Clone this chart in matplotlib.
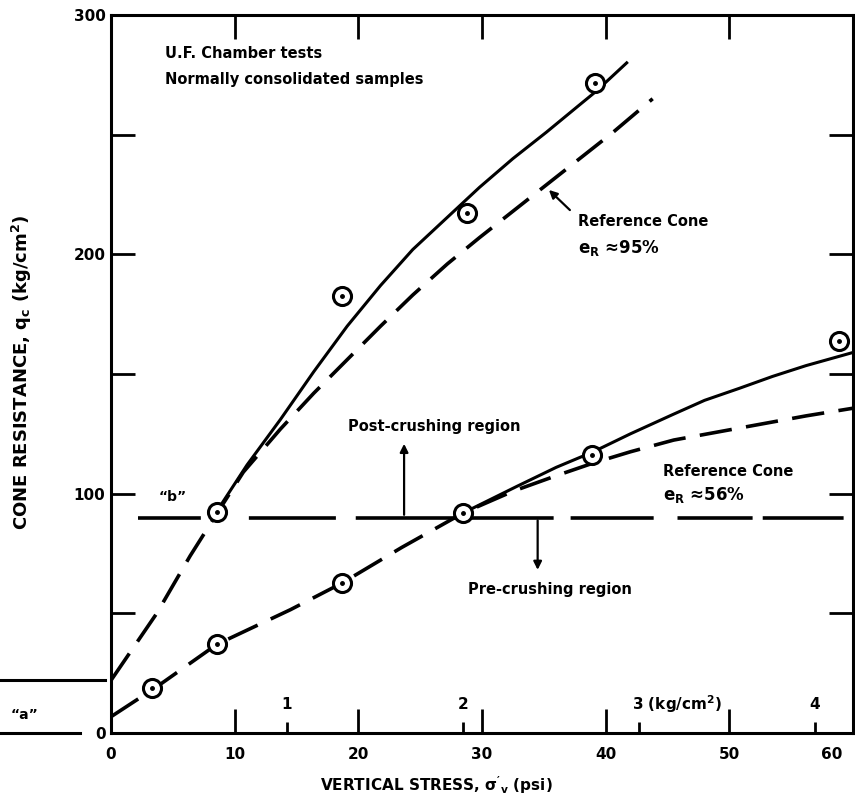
import numpy as np
import matplotlib.pyplot as plt
from matplotlib.transforms import blended_transform_factory, ScaledTranslation

plt.rcParams["font.family"] = ["DejaVu Sans"]
plt.rcParams["font.weight"] = "bold"
plt.rcParams["mathtext.default"] = "regular"

# Test points (psi, kg/cm2)
dense_x = [8.55, 18.7, 28.8, 39.1]
dense_y = [92.4, 182.7, 217.2, 271.6]
loose_x = [3.3, 8.55, 18.7, 28.5, 38.9, 58.9]
loose_y = [18.6, 37.2, 62.7, 92.1, 116.2, 163.8]

# Fitted curves
dense_fit_x = [8.6, 11.0, 13.7, 16.4, 19.1, 21.8, 24.4, 27.1, 29.8, 32.5, 35.2, 37.9, 39.2, 41.7]
dense_fit_y = [93, 112, 131, 151, 170, 187, 202, 215, 228, 240, 251, 262.5, 268, 280]
dense_ref_x = [0, 3.7, 6.4, 8.6, 10.7, 13.7, 16.4, 19.1, 21.8, 24.4, 27.2, 29.8, 32.5, 35.2,
               37.9, 40.6, 43.8]
dense_ref_y = [22, 50, 74, 92, 109, 127, 142, 156, 170, 183, 196, 207, 218, 229, 240, 251, 265]
loose_fit_x = [28.5, 32.8, 36.0, 39.0, 42.0, 45.4, 48.0, 50.8, 53.5, 56.2, 60.0]
loose_fit_y = [92, 103, 111, 117.5, 125, 133, 139, 144, 149, 153.5, 159]
loose_ref_x = [0, 3.7, 8.55, 14.5, 18.7, 23.5, 28.5, 32.5, 36.0, 39.0, 42.0, 45.5, 50.9, 56.2, 60.0]
loose_ref_y = [6.8, 19.3, 37.0, 51.5, 62.7, 77.5, 92.0, 101, 107.5, 112.8, 117.5, 122.4, 127.5, 132.5, 135.7]

crush_level = 90
crush_x0, crush_x1 = 2.15, 59.3
a_level = 22
kg_ticks = [1, 2, 3, 4]
PSI_PER_KG = 14.223

fig = plt.figure(figsize=(8.55, 8.06), dpi=100)
ax = fig.add_axes([111 / 855, 73 / 806, 742 / 855, 718 / 806])
ax.set_xlim(0, 60)
ax.set_ylim(0, 300)

lw = 2.2
ax.plot(dense_fit_x, dense_fit_y, color="black", lw=lw)
ax.plot(dense_ref_x, dense_ref_y, color="black", lw=2.6, linestyle=(0, (9, 4)))
ax.plot(loose_fit_x, loose_fit_y, color="black", lw=lw)
ax.plot(loose_ref_x, loose_ref_y, color="black", lw=2.6, linestyle=(0, (9, 4)))
# hand-drawn dashes of the crushing line are uneven
ax.plot([crush_x0, crush_x1], [crush_level, crush_level], color="black", lw=2.6,
        linestyle=(0, (17.4, 13.3, 24.1, 5.5, 54.8, 4.7, 23, 6.6, 20.8, 2.8, 22.4, 40)))

for xs, ys in [(dense_x, dense_y), (loose_x, loose_y)]:
    ax.plot(xs, ys, "o", ms=13, mfc="white", mec="black", mew=2.2, zorder=5, clip_on=False)
    ax.plot(xs, ys, "o", ms=2.5, color="black", zorder=6, clip_on=False)

# spines and ticks
for s in ax.spines.values():
    s.set_linewidth(2.2)
ax.set_xticks([0, 10, 20, 30, 40, 50, 60])
ax.set_yticks([0, 50, 100, 150, 200, 250, 300])
ax.set_yticklabels(["0", "", "100", "", "200", "", "300"])
ax.tick_params(axis="x", direction="in", length=17, width=2, top=True, pad=10, labelsize=11)
ax.tick_params(axis="y", direction="in", length=17, width=2, right=True, pad=4, labelsize=11)
lab60 = ax.get_xticklabels()[-1]
lab60.set_transform(lab60.get_transform() + ScaledTranslation(-21 / 100, 0, fig.dpi_scale_trans))

# kg/cm2 scale along the bottom
sec = ax.secondary_xaxis("bottom", functions=(lambda p: p / PSI_PER_KG, lambda k: k * PSI_PER_KG))
sec.set_xticks(kg_ticks)
sec.set_xticklabels([])
sec.tick_params(direction="in", length=8, width=2)
sec.spines["bottom"].set_visible(False)
tb = blended_transform_factory(ax.transData, ax.transAxes)
for k in kg_ticks:
    if k == 3:
        ax.annotate("3 (kg/cm$^2$)", (k * PSI_PER_KG, 0.04), xycoords=tb, xytext=(-5, 0),
                    textcoords="offset points", ha="left", va="center", fontsize=11)
    else:
        ax.text(k * PSI_PER_KG, 0.04, str(k), transform=tb, ha="center", va="center", fontsize=11)

# marks outside the left axis
ty = blended_transform_factory(ax.transAxes, ax.transData)
ax.plot([-0.1496, -0.042], [0, 0], color="black", lw=2.2, transform=ty, clip_on=False)
ax.plot([-0.1496, -0.008], [a_level, a_level], color="black", lw=2.2, transform=ty, clip_on=False)
ax.text(-0.116, 7.5, "\u201ca\u201d", transform=ty, ha="center", va="center", fontsize=10)
ax.text(5.0, 98.6, "\u201cb\u201d", ha="center", va="center", fontsize=10)

# annotations
tfs = 10.5
ax.text(4.37, 284, "U.F. Chamber tests", ha="left", va="center", fontsize=tfs)
ax.text(4.37, 273, "Normally consolidated samples", ha="left", va="center", fontsize=tfs)
ax.text(37.75, 213.7, "Reference Cone", ha="left", va="center", fontsize=tfs)
ax.text(37.75, 202.5, "$e_R$ \u224895%", ha="left", va="center", fontsize=12)
ax.text(44.6, 109.2, "Reference Cone", ha="left", va="center", fontsize=tfs)
ax.text(44.6, 99.5, "$e_R$ \u224856%", ha="left", va="center", fontsize=12)
ax.text(19.2, 128, "Post-crushing region", ha="left", va="center", fontsize=tfs)
ax.text(28.9, 60, "Pre-crushing region", ha="left", va="center", fontsize=tfs)

arrow = dict(arrowstyle="-|>", color="black", lw=1.6, mutation_scale=12)
ax.annotate("", xy=(23.7, 122), xytext=(23.7, crush_level), arrowprops=arrow)
ax.annotate("", xy=(34.5, 67), xytext=(34.5, crush_level), arrowprops=arrow)
ax.annotate("", xy=(35.25, 227.7), xytext=(37.27, 217.7), arrowprops=arrow)

fig.text(436 / 855, 1 - 785 / 806, "VERTICAL STRESS, $\\sigma'_v$ (psi)", ha="center", va="center",
         fontsize=11)
fig.text(22 / 855, 1 - 372 / 806, "CONE RESISTANCE, q$_c$ (kg/cm$^2$)", rotation=90, ha="center",
         va="center", fontsize=13)

fig.savefig("out.png", dpi=100)
